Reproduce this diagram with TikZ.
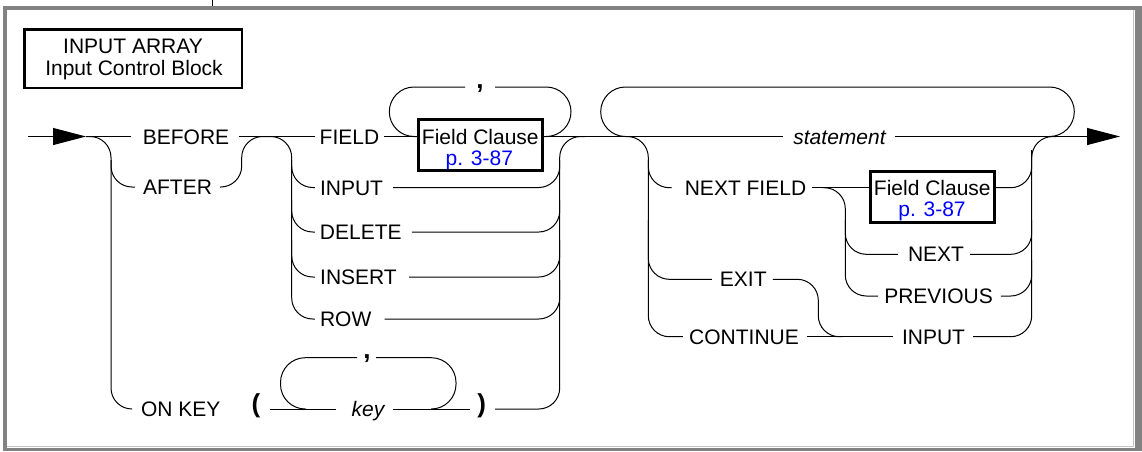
\documentclass[tikz,border=0pt]{standalone}
\usepackage{fontspec}
\setmainfont{Liberation Sans}
\usetikzlibrary{arrows.meta,calc}
\definecolor{framegray}{RGB}{130,130,130}
\definecolor{framelight}{RGB}{195,195,195}
\definecolor{refblue}{RGB}{0,0,255}
\begin{document}
\begin{tikzpicture}[x=1pt,y=-1pt,
  rail/.style={line width=1pt, rounded corners=21pt},
  loopline/.style={line width=1pt, rounded corners=24.75pt},
  kw/.style={font=\fontsize{21}{22}\selectfont, text height=15pt, text depth=0pt, inner sep=0pt},
  kwit/.style={kw, font=\fontsize{21}{22}\selectfont\itshape},
  sym/.style={inner sep=0pt, font=\fontsize{26}{26}\selectfont\bfseries, text height=6pt, text depth=0pt},
  commamark/.style={inner sep=0pt, font=\fontsize{26}{26}\selectfont\bfseries, text height=2pt, text depth=0pt},
  cbox/.style={draw, line width=3pt, minimum width=124.6pt, minimum height=51pt, inner sep=0pt},
  cref/.style={kw, text=refblue},
  endarrow/.style={line width=1pt, -{Triangle[length=33pt,width=17pt]}},
]
\useasboundingbox (0,0) rectangle (1142,451);
% frame
\fill[framegray] (3,6) rectangle (1142,9.5);
\fill[framegray] (3,6) rectangle (6.5,451);
\fill[framegray] (3,447.5) rectangle (1142,451);
\fill[framegray] (1134.5,6) rectangle (1142,451);
\draw[framelight, line width=1pt] (6.5,446.5) -- (1133.5,446.5) -- (1133.5,9.5);
\draw[line width=1pt] (212,0) -- (212,6);

% title
\node[draw, line width=2.7pt, minimum width=217.3pt, minimum height=58.6pt, inner sep=0pt] (title) at (133.3,58.65) {};
\node[kw] (title1) at (133,45.8) {INPUT ARRAY};
\node[kw] (title2) at (134,67.5) {Input Control Block};

% text nodes
\node[kw] (before) at (186,136.5) {BEFORE};
\node[kw] (after) at (177.5,187) {AFTER};
\node[kw] (field) at (349.5,136.5) {FIELD};
\node[kw] (input) at (351.5,187.5) {INPUT};
\node[kw] (delete) at (360.8,232) {DELETE};
\node[kw] (insert) at (358.5,277) {INSERT};
\node[kw] (row) at (345.7,319) {ROW};
\node[kw] (onkey) at (180.7,409) {ON KEY};
\node[sym] (lparen) at (256,409) {(};
\node[kwit] (key) at (368,409) {key};
\node[sym] (rparen) at (481.7,409) {)};
\node[commamark] (c1) at (480,87) {,};
\node[commamark] (c2) at (367,357.7) {,};
\node[cbox] (fc1) at (480.5,144.7) {};
\node[kw] (fc1t) at (480.3,136.5) {Field Clause};
\node[cref] (fc1p) at (479.3,157.8) {p. 3-87};
\node[cbox] (fc2) at (932.3,196.5) {};
\node[kw] (fc2t) at (932.3,187.8) {Field Clause};
\node[cref] (fc2p) at (932,209.1) {p. 3-87};
\node[kwit] (statement) at (839.5,136.5) {statement};
\node[kw] (nextfield) at (745.5,187.7) {NEXT FIELD};
\node[kw] (next) at (936,254.3) {NEXT};
\node[kw] (previous) at (938.5,296) {PREVIOUS};
\node[kw] (exit) at (743.3,279.3) {EXIT};
\node[kw] (continue) at (744,336.7) {CONTINUE};
\node[kw] (input2) at (933.5,336.7) {INPUT};

% junctions
\coordinate (entry) at (28,136.5);
\coordinate (atip) at (86,136.5);
\coordinate (j1) at (268,136.5);
\coordinate (j2) at (585,136.5);
\coordinate (jL) at (626,136.5);
\coordinate (jR) at (1049.5,136.5);
\coordinate (jR2) at (1056,136.5);
\coordinate (j4) at (822,187.7);
\coordinate (j5) at (842,336.7);
\coordinate (kl) at (306,409);
\coordinate (kr) at (431,409);
\coordinate (exittip) at (1120,136.5);

% left part
\draw[endarrow] (entry) -- (atip);
\draw[rail] (atip) -- ($(before.west)+(-12,0)$);
\draw[rail] (atip) -| (111,409) -- ($(onkey.west)+(-9,0)$);
\draw[rail] (111,160) |- ($(after.west)+(-8,0)$);
\draw[rail] ($(after.east)+(8,0)$) -| (241.7,136.5) -- (j1);
\draw[rail] ($(before.east)+(10,0)$) -- ($(field.west)+(-5,0)$);

% field stack
\draw[rail] (j1) -| (291.7,319) -- ($(row.west)+(-5,0)$);
\draw[rail] (291.7,160) |- ($(input.west)+(-5,0)$);
\draw[rail] (291.7,200) |- ($(delete.west)+(-5,0)$);
\draw[rail] (291.7,240) |- ($(insert.west)+(-5,0)$);
\draw[rail] ($(field.east)+(5,0)$) -- (fc1.west |- field);
\draw[loopline] (fc1.west |- field) -- (389.3,136.5) -- (389.3,87) -- ($(c1)+(-15,0)$);
\draw[loopline] ($(c1)+(15,0)$) -- (571,87) -- (571,136.5) -- (fc1.east |- field);
\draw[rail] (fc1.east |- field) -- ($(statement.west)+(-10.3,0)$);
\draw[rail] ($(rparen.east)+(9,0)$) -| (559.7,136.5) -- (j2);
\draw[rail] ($(input.east)+(10,0)$) -| (559.7,160);
\draw[rail] ($(delete.east)+(10,0)$) -| (559.7,200);
\draw[rail] ($(insert.east)+(12,0)$) -| (559.7,240);
\draw[rail] ($(row.east)+(13,0)$) -| (559.7,280);

% on key row
\draw[rail] ($(lparen.east)+(9,0)$) -- ($(key.west)+(-15,0)$);
\draw[loopline] (kl) -- (280.5,409) -- (280.5,357.7) -- ($(c2)+(-10,0)$);
\draw[loopline] ($(c2)+(9,0)$) -- (456,357.7) -- (456,409) -- (kr);
\draw[rail] ($(key.east)+(8,0)$) -- ($(rparen.west)+(-7,0)$);

% statement part
\draw[loopline] (jL) -- (600.7,136.5) -- (600.7,87) -- (1074.3,87) -- (1074.3,136.5) -- (jR);
\draw[rail] (jL) -| (648.3,336.7) -- ($(continue.west)+(-6,0)$);
\draw[rail] (648.3,160) |- ($(nextfield.west)+(-13,0)$);
\draw[rail] (648.3,220) |- ($(exit.west)+(-8,0)$);
\draw[rail] ($(nextfield.east)+(6,0)$) -- (fc2.west |- nextfield);
\draw[rail] (j4) -| (845.3,296) -- ($(previous.west)+(-6,0)$);
\draw[rail] (845.3,220) |- ($(next.west)+(-10,0)$);
\draw[rail] ($(input2.east)+(8,0)$) -| (1031.7,136.5) -- (jR2);
\draw[rail] (fc2.east |- nextfield) -| (1031.7,150);
\draw[rail] ($(next.east)+(6,0)$) -| (1031.7,220);
\draw[rail] ($(previous.east)+(8,0)$) -| (1031.7,260);
\draw[rail] ($(exit.east)+(6,0)$) -| (818.3,336.7) -- (j5);
\draw[rail] ($(continue.east)+(8,0)$) -- ($(input2.west)+(-9,0)$);
\draw[endarrow] ($(statement.east)+(9,0)$) -- (exittip);
\end{tikzpicture}
\end{document}
